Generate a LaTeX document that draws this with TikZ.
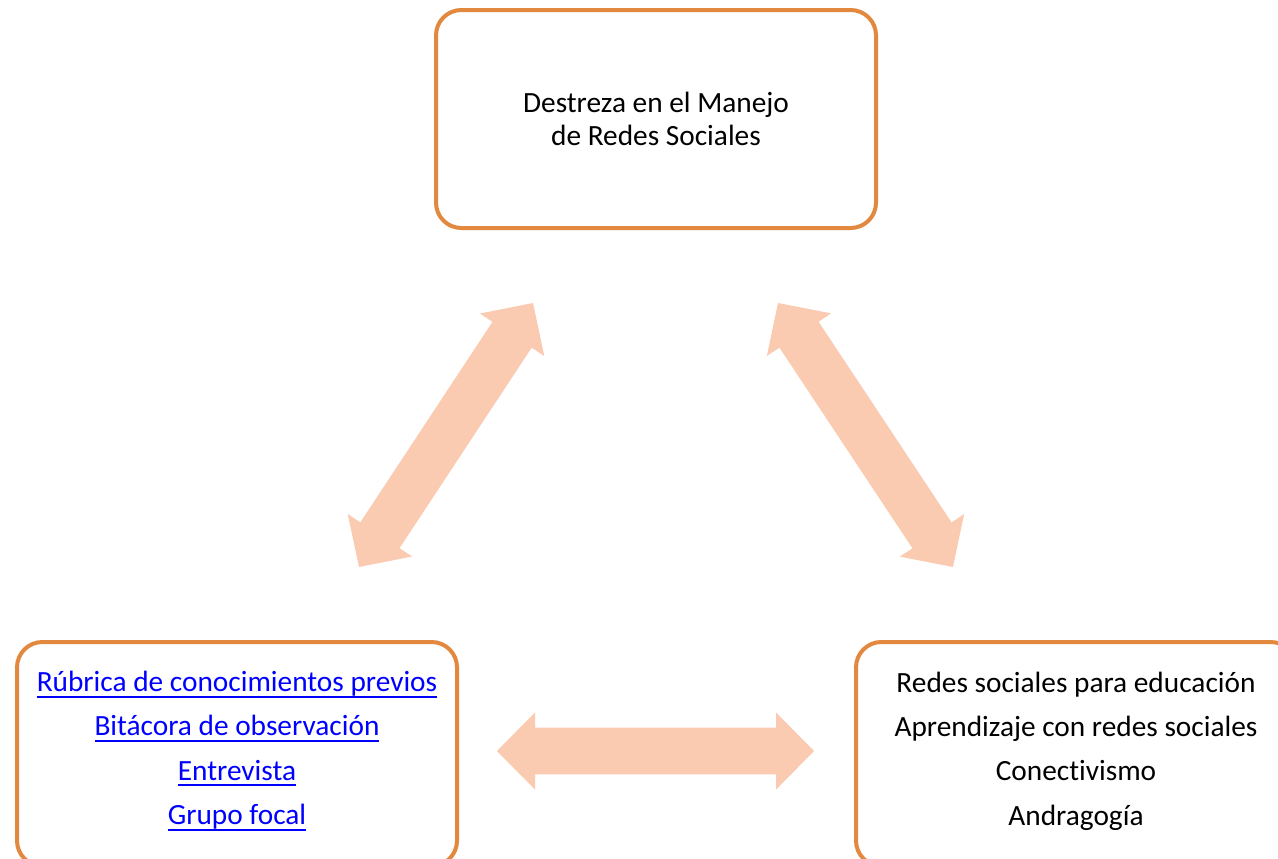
\documentclass[tikz,border=0pt]{standalone}
\usepackage{fontspec}
\setmainfont[Ligatures={NoCommon}]{Carlito}
\usetikzlibrary{calc}
\definecolor{boxorange}{HTML}{E2893F}
\definecolor{arrowpeach}{HTML}{FACBB1}
\definecolor{linkblue}{HTML}{0000FF}
\newcommand\lnk[1]{\textcolor{linkblue}{\setbox0\hbox{#1}\rlap{\rule[-4.6pt]{\wd0}{1.5pt}}\box0}}
\newcommand\biarrow[2]{%
  \fill[arrowpeach] (#1)
    -- ($(#1)!28.5pt!(#2)!28.9pt!90:(#2)$)
    -- ($(#1)!28.5pt!(#2)!17.6pt!90:(#2)$)
    -- ($(#2)!28.5pt!(#1)!17.6pt!-90:(#1)$)
    -- ($(#2)!28.5pt!(#1)!28.9pt!-90:(#1)$)
    -- (#2)
    -- ($(#2)!28.5pt!(#1)!28.9pt!90:(#1)$)
    -- ($(#2)!28.5pt!(#1)!17.6pt!90:(#1)$)
    -- ($(#1)!28.5pt!(#2)!17.6pt!-90:(#2)$)
    -- ($(#1)!28.5pt!(#2)!28.9pt!-90:(#2)$)
    -- cycle;}
\tikzset{
  card/.style={draw=boxorange, line width=3pt, rounded corners=19pt,
    fill=white, minimum width=330pt, minimum height=163.5pt,
    align=center, inner sep=0pt},
  lowcard/.style={card, minimum height=168pt},
  toptext/.style={font=\fontsize{22}{24.5}\selectfont},
  listtext/.style={align=center, inner sep=0pt, font=\fontsize{22}{33.3}\selectfont}
}
\begin{document}
\begin{tikzpicture}[x=0.75pt,y=-0.75pt]
\useasboundingbox (0,0) rectangle (1278,858);
\clip (0,0) rectangle (1278,858);
\fill[white] (0,0) rectangle (1278,858);

\node[card, toptext] (top) at (656,119) {Destreza en el Manejo\\de Redes Sociales};

\node[lowcard] (lb) at (237,754) {};
\node[listtext] (lbtext) at (237,751)
  {\lnk{Rúbrica de conocimientos previos}\\
   \lnk{Bitácora de observación}\\
   \lnk{Entrevista}\\
   \lnk{Grupo focal}};

\node[lowcard] (rb) at (1076,754) {};
\node[listtext] (rbtext) at (1076,751)
  {Redes sociales para educación\\
   Aprendizaje con redes sociales\\
   Conectivismo\\
   Andragogía};

\coordinate (a1) at (359,567);
\coordinate (a2) at (533,303);
\coordinate (b1) at (778,303);
\coordinate (b2) at (953,567);
\coordinate (c1) at (497,751);
\coordinate (c2) at (814,751);
\biarrow{a1}{a2}
\biarrow{b1}{b2}
\biarrow{c1}{c2}
\end{tikzpicture}
\end{document}
